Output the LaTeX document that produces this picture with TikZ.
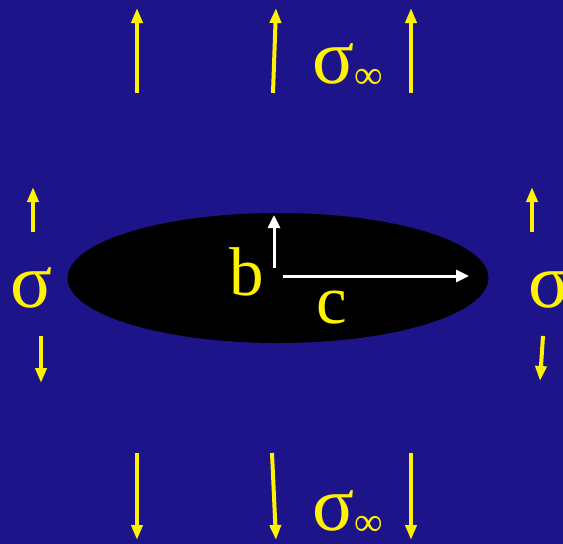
\documentclass[tikz,border=0pt]{standalone}
\usepackage{fontspec}
\setmainfont{Liberation Serif}
\usetikzlibrary{shapes.geometric, arrows.meta}
\definecolor{deepblue}{RGB}{30,20,137}

\begin{document}
\begin{tikzpicture}[x=1pt, y=-1pt,
  load/.style={draw=yellow, line width=4pt, -{Triangle[width=11pt, length=15pt]}},
  axis/.style={draw=white, line width=3pt, -{Triangle[width=12pt, length=13pt]}},
  sym/.style={text=yellow, font=\fontsize{69}{69}\selectfont, inner sep=0pt, anchor=base west},
  stress/.style={sym, font=\fontsize{78}{78}\selectfont}]
\useasboundingbox (0,0) rectangle (563,544);
\clip (0,0) rectangle (563,544);
\fill[deepblue] (0,0) rectangle (563,544);
\node[ellipse, fill=black, minimum width=421pt, minimum height=130pt, inner sep=0pt] (crack) at (278,278) {};

% remote stress, top and bottom
\foreach \n/\xa/\xb in {tl/137/137, tm/273/276, tr/411/411} {
  \coordinate (\n-tail) at (\xa,93);
  \coordinate (\n-tip) at (\xb,8);
  \draw[load] (\n-tail) -- (\n-tip);
}
\foreach \n/\xa/\xb in {bl/137/137, bm/272/276, br/411/411} {
  \coordinate (\n-tail) at (\xa,453);
  \coordinate (\n-tip) at (\xb,540);
  \draw[load] (\n-tail) -- (\n-tip);
}
% local stress at the sides
\foreach \n/\xa/\ya/\xb/\yb in {lu/33/232/33/187, ld/41/336/41/383, ru/532/232/532/187, rd/543/336/540/381} {
  \coordinate (\n-tail) at (\xa,\ya);
  \coordinate (\n-tip) at (\xb,\yb);
  \draw[load] (\n-tail) -- (\n-tip);
}

% semi-axes
\coordinate (b-tail) at (274,268);
\coordinate (b-tip) at (274,215);
\coordinate (c-tail) at (283,276);
\coordinate (c-tip) at (469,276);
\draw[axis] (b-tail) -- (b-tip);
\draw[axis] (c-tail) -- (c-tip);

\node[sym] (blabel) at (229,295) {b};
\node[sym] (clabel) at (316,323) {c};
\node[stress] (sigleft) at (10,307) {σ};
\node[stress] (sigright) at (528,307) {σ};
\node[stress] (sigtop) at (312,83) {σ\raisebox{-5pt}{\fontsize{40}{40}\selectfont ∞}};
\node[stress] (sigbot) at (312,530) {σ\raisebox{-5pt}{\fontsize{40}{40}\selectfont ∞}};
\end{tikzpicture}
\end{document}
